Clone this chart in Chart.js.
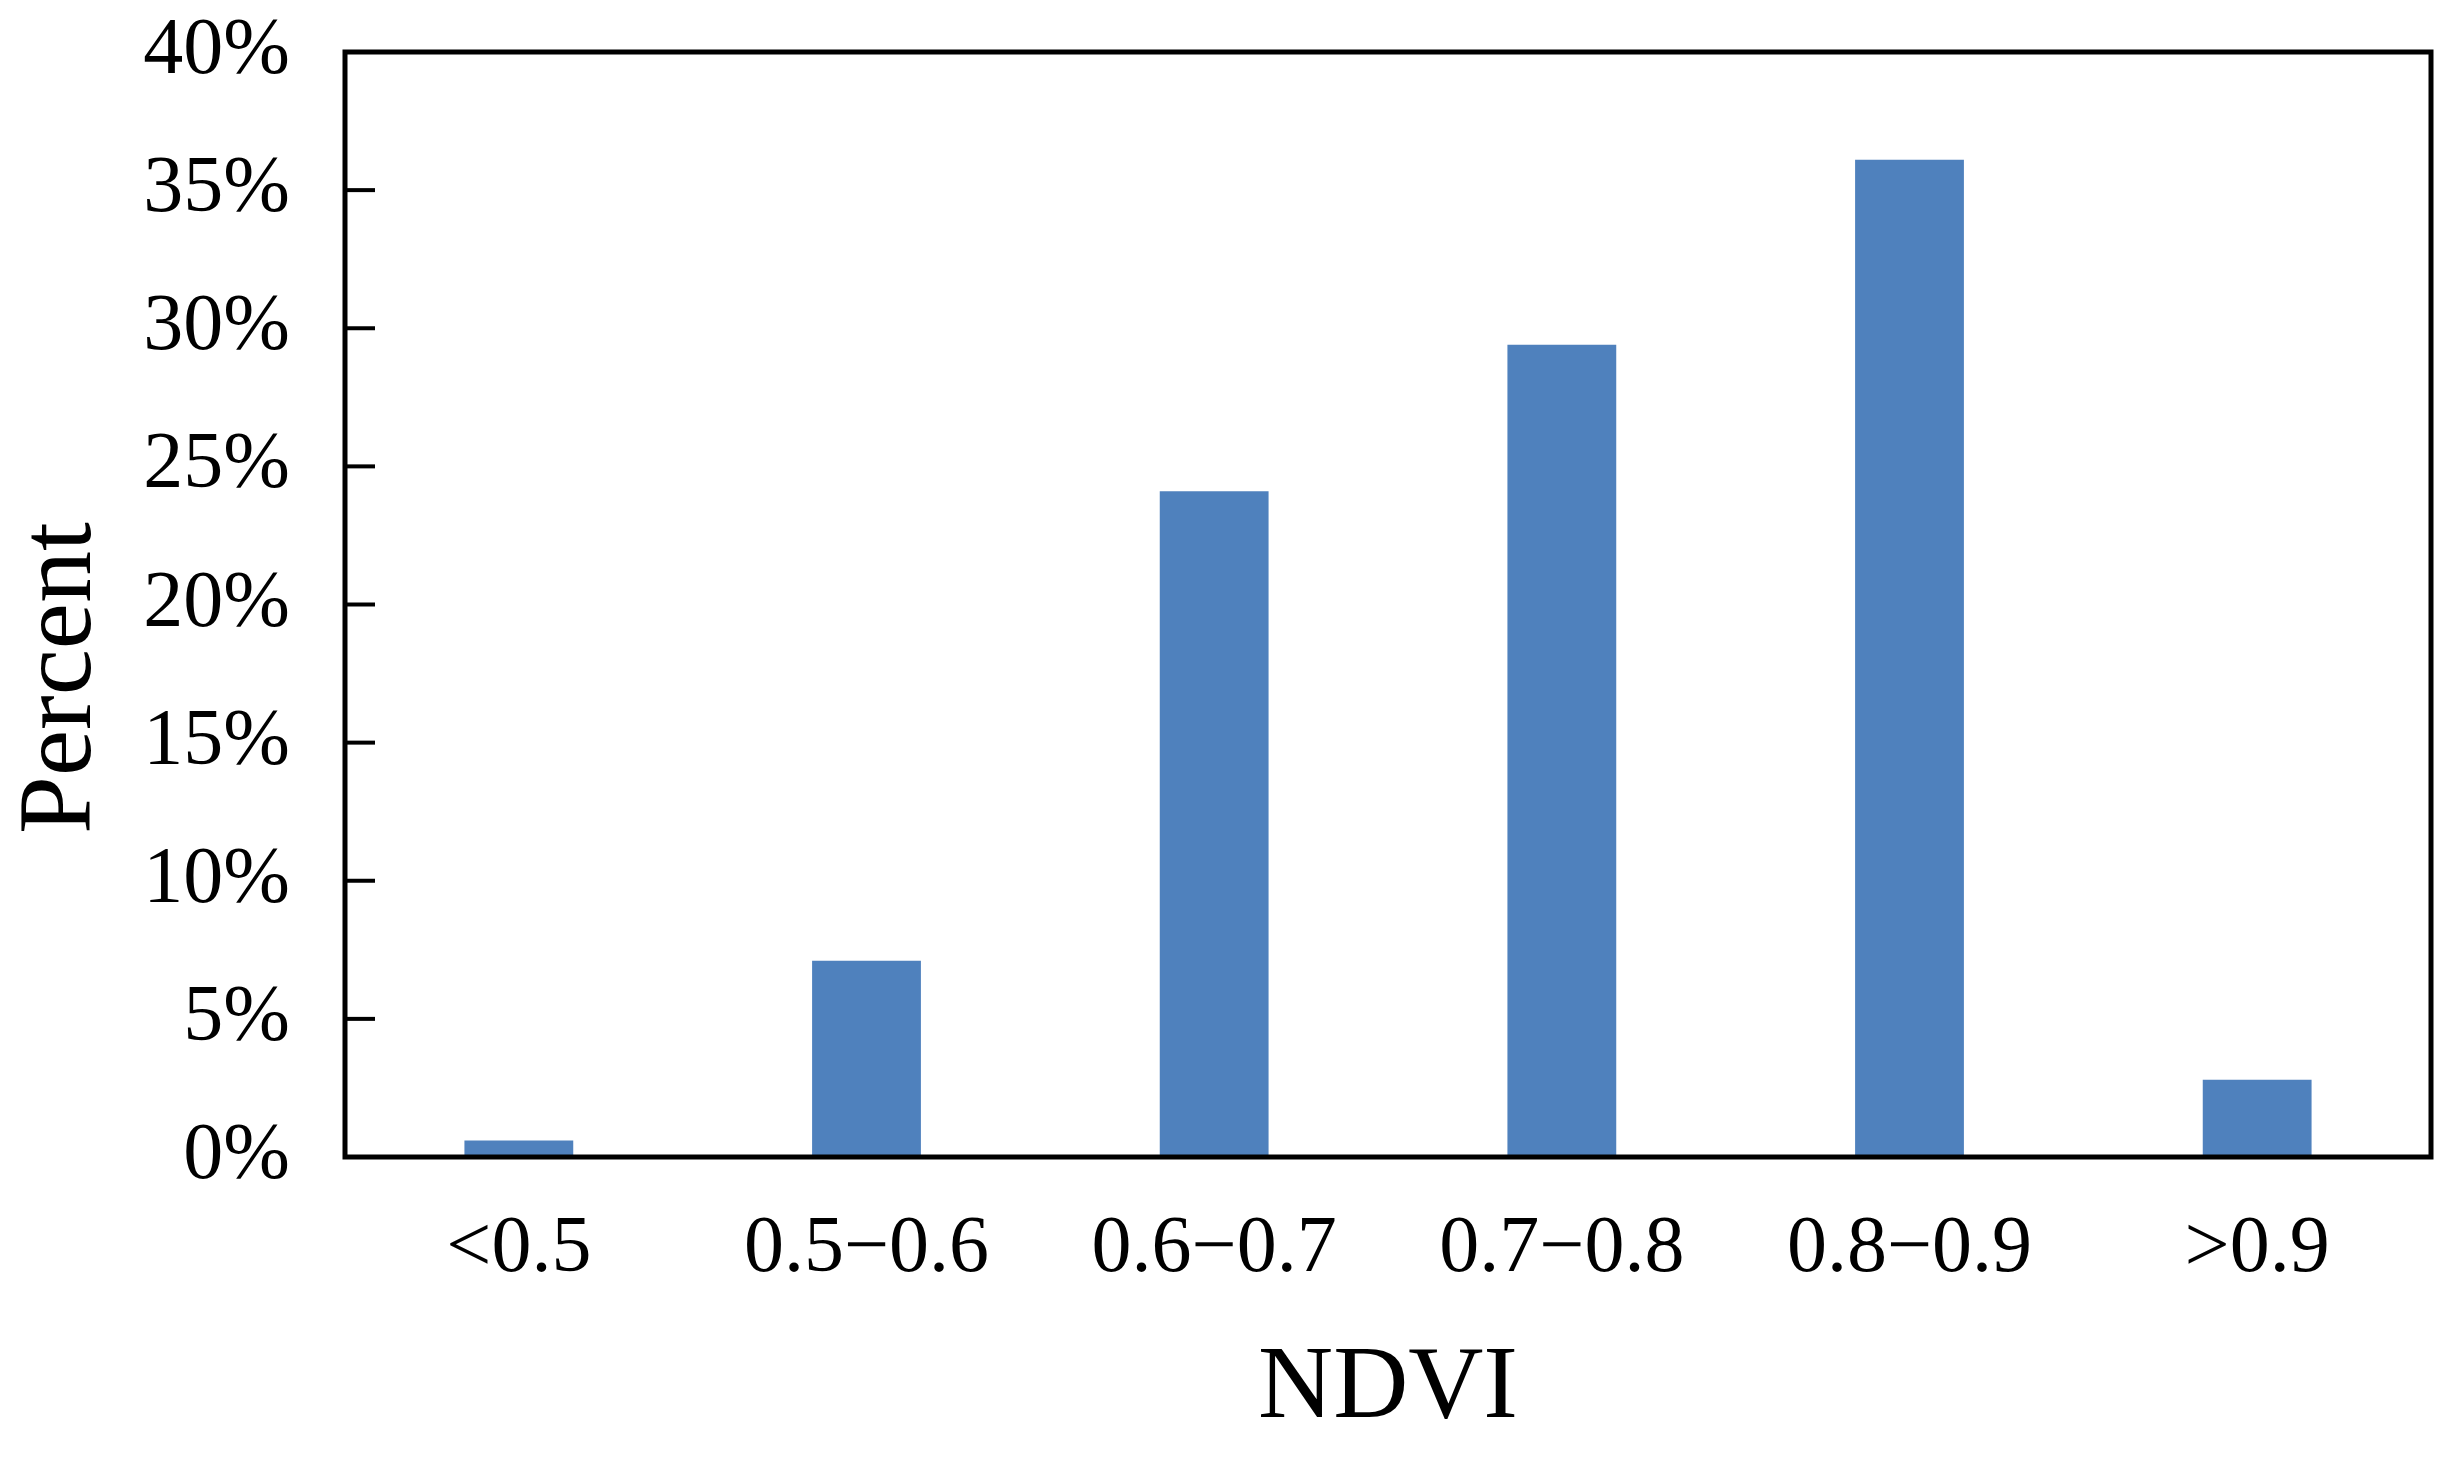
<!DOCTYPE html>
<html>
<head>
<meta charset="utf-8">
<script src="https://cdn.jsdelivr.net/npm/chart.js@4"></script>
<style>
    html, body { margin: 0; padding: 0; background: #ffffff; }
    #wrap { width: 2462px; height: 1463px; }
</style>
</head>
<body>
<div id="wrap"><canvas id="ndviChart"></canvas></div>
<script>
const categories = ["<0.5", "0.5\u22120.6", "0.6\u22120.7", "0.7\u22120.8", "0.8\u22120.9", ">0.9"];
const percentValues = [0.6, 7.1, 24.1, 29.4, 36.1, 2.8];
const yTicks = [0, 5, 10, 15, 20, 25, 30, 35, 40];

const serif = "'Liberation Serif', 'Times New Roman', serif";

/**
 * Frame, inward ticks and axis titles
 */
const framePlugin = {
    id: "frame",
    afterDraw(chart) {
        const ctx = chart.ctx;
        const area = chart.chartArea;
        const y = chart.scales.y;
        ctx.save();
        ctx.strokeStyle = "#000000";

        // inward tick marks on the left axis
        ctx.lineWidth = 4;
        yTicks.forEach(function (v) {
            const py = y.getPixelForValue(v);
            ctx.beginPath();
            ctx.moveTo(area.left, py);
            ctx.lineTo(area.left + 30, py);
            ctx.stroke();
        });

        // box round the plot
        ctx.lineWidth = 5;
        ctx.strokeRect(area.left, area.top, area.right - area.left, area.bottom - area.top);

        // axis titles
        ctx.fillStyle = "#000000";
        ctx.textAlign = "center";
        ctx.textBaseline = "middle";
        ctx.font = "104px " + serif;
        ctx.fillText("NDVI", (area.left + area.right) / 2, 1390);

        ctx.translate(63, 678);
        ctx.rotate(-Math.PI / 2);
        ctx.fillText("Percent", 0, 0);
        ctx.restore();
    }
};

function renderChart() {
    const ctx = document.getElementById("ndviChart").getContext("2d");
    new Chart(ctx, {
        type: "bar",
        data: {
            labels: categories,
            datasets: [{
                data: percentValues,
                backgroundColor: "#4f81bd",
                borderWidth: 0,
                categoryPercentage: 0.313,
                barPercentage: 1.0
            }]
        },
        options: {
            responsive: true,
            maintainAspectRatio: false,
            animation: false,
            layout: { padding: { top: 52, right: 31, left: 0, bottom: 0 } },
            plugins: {
                legend: { display: false },
                tooltip: { enabled: false }
            },
            scales: {
                x: {
                    grid: { display: false, drawTicks: false },
                    border: { display: false },
                    ticks: {
                        color: "#000000",
                        padding: 45,
                        maxRotation: 0,
                        font: { family: serif, size: 80 }
                    },
                    afterFit(scale) {
                        scale.height = 306;
                        scale.paddingLeft = 0;
                        scale.paddingRight = 0;
                    }
                },
                y: {
                    min: 0,
                    max: 40,
                    grid: { display: false, drawTicks: false },
                    border: { display: false },
                    ticks: {
                        stepSize: 5,
                        color: "#000000",
                        padding: 55,
                        font: { family: serif, size: 80 },
                        callback: function (v) { return v + "%"; }
                    },
                    afterFit(scale) {
                        scale.width = 345;
                        scale.paddingTop = 0;
                        scale.paddingBottom = 0;
                    }
                }
            }
        },
        plugins: [framePlugin]
    });
}

renderChart();
</script>
</body>
</html>
